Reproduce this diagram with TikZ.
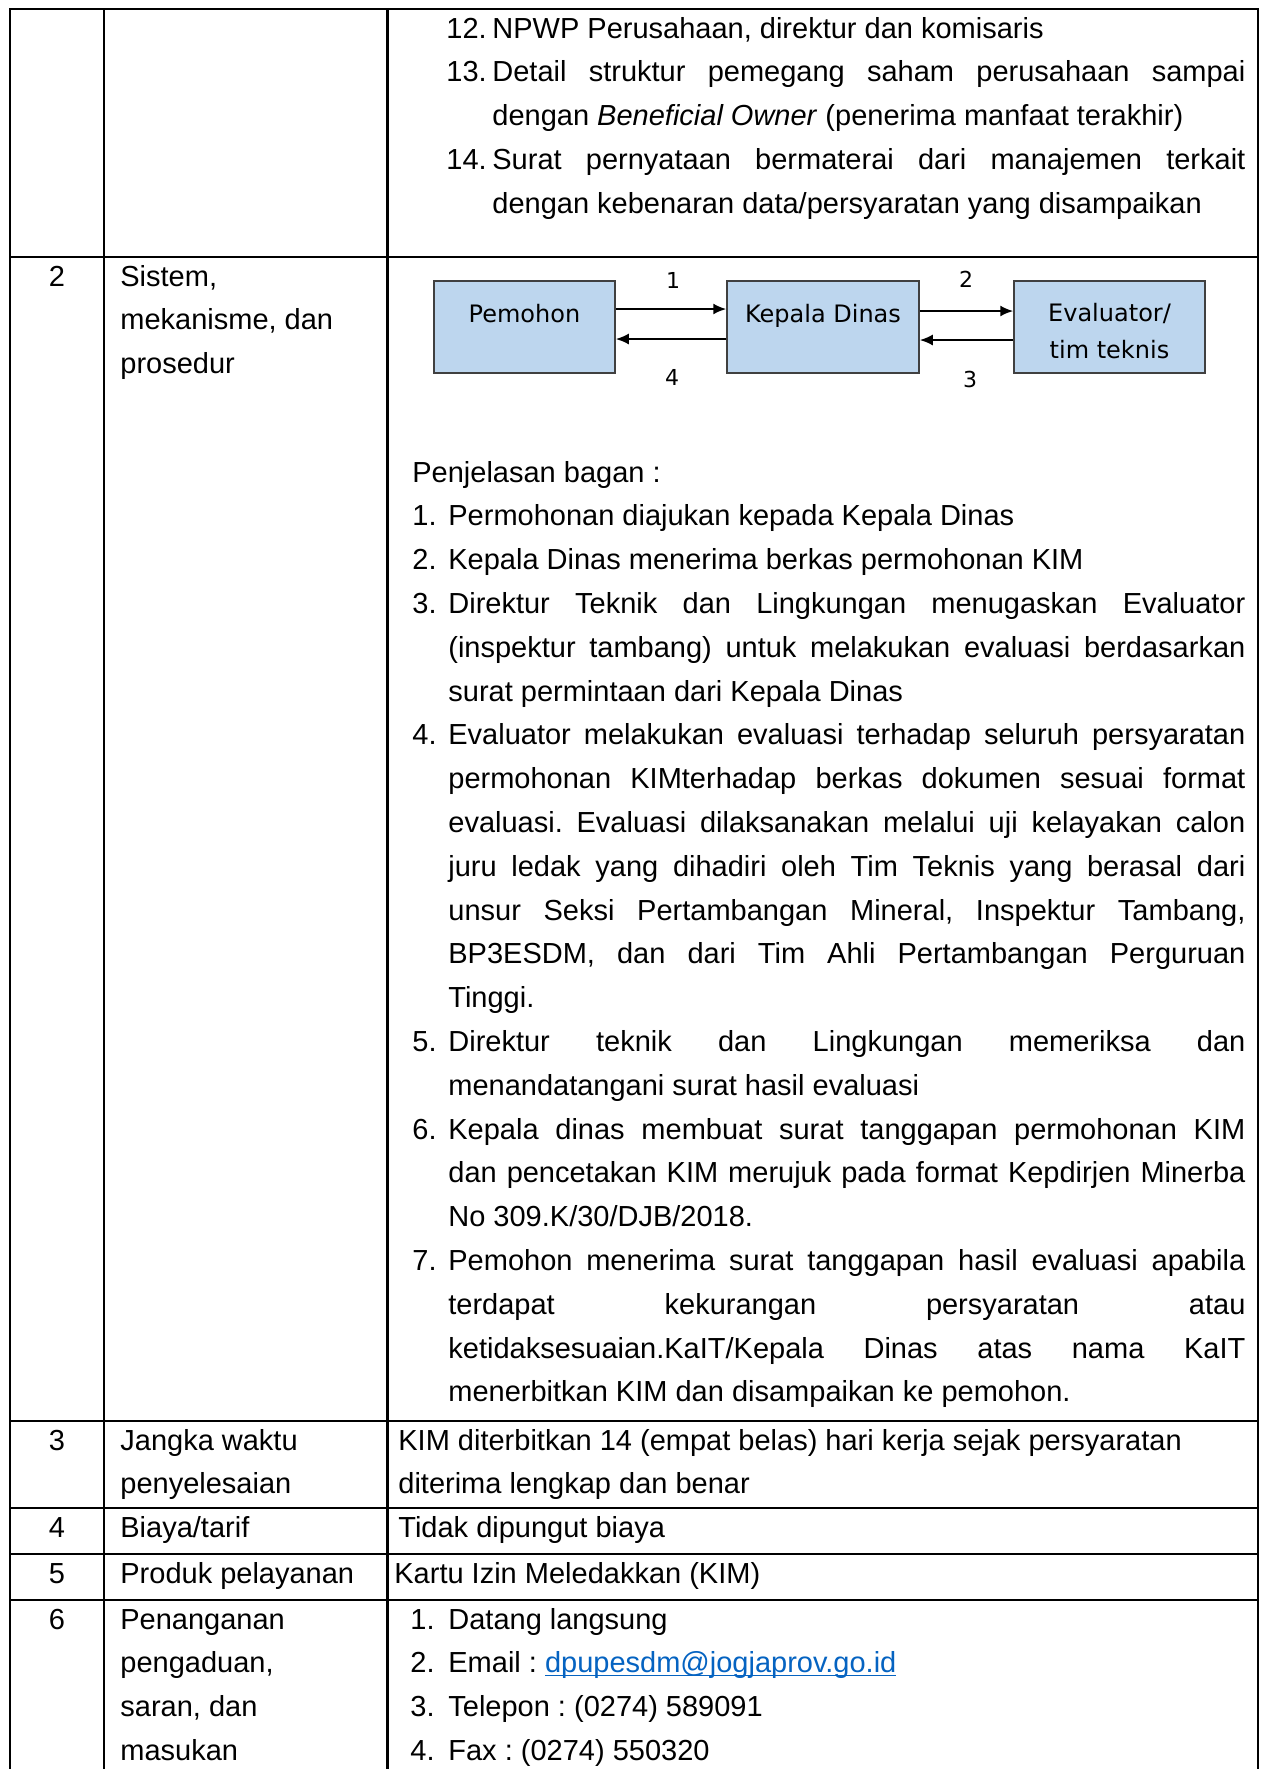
\documentclass[tikz,border=0pt]{standalone}
\usepackage{fontspec}
\setmainfont{Liberation Sans}
\newfontfamily\dejavu{DejaVu Sans}
\usepackage{tikz}
\usetikzlibrary{arrows.meta,calc}

\definecolor{boxblue}{RGB}{189,214,238}
\definecolor{boxline}{RGB}{64,64,64}
\definecolor{linkblue}{RGB}{5,99,193}

\newcommand{\fullline}[2][398.5pt]{\makebox[#1][s]{#2}}
\newcommand{\ulink}[1]{\setbox0\hbox{#1}\rlap{\rule[-1.8pt]{\wd0}{0.7pt}}\box0}

\begin{document}
\frenchspacing
\begin{tikzpicture}[>={Latex[length=6.5pt,width=5.5pt]}, x=0.5pt, y=-0.5pt, inner sep=0pt,
	grid/.style={line width=1.3pt},
	txt/.style={anchor=base west, font=\fontsize{14.5pt}{21.9pt}\selectfont, align=justify, text width=#1},
	txt/.default=420pt,
	nl/.style={anchor=base west, font=\fontsize{14.5pt}{21.9pt}\selectfont},
	nc/.style={anchor=base, font=\fontsize{14.5pt}{21.9pt}\selectfont},
	box/.style={draw=boxline, fill=boxblue, line width=0.75pt, minimum height=46pt},
	boxtxt/.style={anchor=base, font=\dejavu\fontsize{12pt}{14pt}\selectfont},
	num/.style={anchor=base, font=\dejavu\fontsize{11pt}{13pt}\selectfont},
	arr/.style={->, line width=1pt}]
	
	\useasboundingbox (0,0) rectangle (1264,1769);
	
	% Tabelle
	\draw[grid] (10,1769) -- (10,9) -- (1258,9) -- (1258,1769);
	\draw[grid] (104,9) -- (104,1769);
	\draw[grid] (387.5,9) -- (387.5,1769);
	\draw[grid] (10,257) -- (1258,257);
	\draw[grid] (10,1421) -- (1258,1421);
	\draw[grid] (10,1508) -- (1258,1508);
	\draw[grid] (10,1554) -- (1258,1554);
	\draw[grid] (10,1600) -- (1258,1600);
	
	% Zeile 1
	\node[nl](n12) at (446,38) {12.};
	\node[txt=376.5pt](t12) at (492,38) {NPWP Perusahaan, direktur dan komisaris};
	\node[nl](n13) at (446,81.8) {13.};
	\node[txt=376.5pt](t13) at (492,81.8) {\fullline[376.5pt]{Detail struktur pemegang saham perusahaan sampai}\\
		dengan \textit{Beneficial Owner} (penerima manfaat terakhir)};
	\node[nl](n14) at (446,169.4) {14.};
	\node[txt=376.5pt](t14) at (492,169.4) {\fullline[376.5pt]{Surat pernyataan bermaterai dari manajemen terkait}\\
		dengan kebenaran data/persyaratan yang disampaikan};
	
	% Zeile 2
	\node[nc](no2) at (57,286) {2};
	\node[txt=133pt](k2) at (120,286) {Sistem,\\ mekanisme, dan\\ prosedur};
	
	\node[box, minimum width=90.5pt](pem) at (524.5,327) {};
	\node[box, minimum width=96pt](kep) at (823,327) {};
	\node[box, minimum width=95.5pt](eva) at (1109.5,327) {};
	\node[boxtxt](pem_t) at (524.5,322.7) {Pemohon};
	\node[boxtxt](kep_t) at (823,322.7) {Kepala Dinas};
	\node[boxtxt](eva_t1) at (1109.5,321) {Evaluator/};
	\node[boxtxt](eva_t2) at (1109.5,358) {tim teknis};
	
	\node[num](l1) at (673,288) {1};
	\node[num](l2) at (966,287) {2};
	\node[num](l3) at (970,387) {3};
	\node[num](l4) at (672,385) {4};
	
	\draw[arr] ([yshift=9pt]pem.east) -- ([yshift=9pt]kep.west);
	\draw[arr] ([yshift=-6pt]kep.west) -- ([yshift=-6pt]pem.east);
	\draw[arr] ([yshift=8pt]kep.east) -- ([yshift=8pt]eva.west);
	\draw[arr] ([yshift=-6.5pt]eva.west) -- ([yshift=-6.5pt]kep.east);
	
	\node[txt](pen) at (412,482) {Penjelasan bagan :};
	\node[nl](n1) at (412,525.8) {1.};
	\node[txt=398.5pt](t1) at (448,525.8) {Permohonan diajukan kepada Kepala Dinas};
	\node[nl](n2) at (412,569.6) {2.};
	\node[txt=398.5pt](t2) at (448,569.6) {Kepala Dinas menerima berkas permohonan KIM};
	\node[nl](n3) at (412,613.4) {3.};
	\node[txt=398.5pt](t3) at (448,613.4) {\fullline{Direktur Teknik dan Lingkungan menugaskan Evaluator}\\
		\fullline{(inspektur tambang) untuk melakukan evaluasi berdasarkan}\\
		surat permintaan dari Kepala Dinas};
	\node[nl](n4) at (412,744.8) {4.};
	\node[txt=398.5pt](t4) at (448,744.8) {\fullline{Evaluator melakukan evaluasi terhadap seluruh persyaratan}\\
		\fullline{permohonan KIMterhadap berkas dokumen sesuai format}\\
		\fullline{evaluasi. Evaluasi dilaksanakan melalui uji kelayakan calon}\\
		\fullline{juru ledak yang dihadiri oleh Tim Teknis yang berasal dari}\\
		\fullline{unsur Seksi Pertambangan Mineral, Inspektur Tambang,}\\
		\fullline{BP3ESDM, dan dari Tim Ahli Pertambangan Perguruan}\\
		Tinggi.};
	\node[nl](n5) at (412,1051.4) {5.};
	\node[txt=398.5pt](t5) at (448,1051.4) {\fullline{Direktur teknik dan Lingkungan memeriksa dan}\\
		menandatangani surat hasil evaluasi};
	\node[nl](n6) at (412,1139) {6.};
	\node[txt=398.5pt](t6) at (448,1139) {\fullline{Kepala dinas membuat surat tanggapan permohonan KIM}\\
		\fullline{dan pencetakan KIM merujuk pada format Kepdirjen Minerba}\\
		No 309.K/30/DJB/2018.};
	\node[nl](n7) at (412,1270.4) {7.};
	\node[txt=398.5pt](t7) at (448,1270.4) {\fullline{Pemohon menerima surat tanggapan hasil evaluasi apabila}\\
		\fullline{terdapat kekurangan persyaratan atau}\\
		\fullline{ketidaksesuaian.KaIT/Kepala Dinas atas nama KaIT}\\
		menerbitkan KIM dan disampaikan ke pemohon.};
	
	% Zeilen 3 bis 6
	\node[nc](no3) at (57,1450) {3};
	\node[txt=133pt](k3) at (120,1450) {Jangka waktu\\ penyelesaian};
	\node[txt](w3) at (398,1450) {KIM diterbitkan 14 (empat belas) hari kerja sejak persyaratan\\ diterima lengkap dan benar};
	
	\node[nc](no4) at (57,1537) {4};
	\node[txt=133pt](k4) at (120,1537) {Biaya/tarif};
	\node[txt](w4) at (398,1537) {Tidak dipungut biaya};
	
	\node[nc](no5) at (57,1583) {5};
	\node[txt=133pt](k5) at (120,1583) {Produk pelayanan};
	\node[txt](w5) at (394,1583) {Kartu Izin Meledakkan (KIM)};
	
	\node[nc](no6) at (57,1629) {6};
	\node[txt=133pt](k6) at (120,1629) {Penanganan\\ pengaduan,\\ saran, dan\\ masukan};
	\node[nl](m1) at (410,1629) {1.};
	\node[txt](w6a) at (448,1629) {Datang langsung};
	\node[nl](m2) at (410,1672.8) {2.};
	\node[txt](w6b) at (448,1672.8) {Email : {\color{linkblue}\ulink{dpupesdm@jogjaprov.go.id}}};
	\node[nl](m3) at (410,1716.6) {3.};
	\node[txt](w6c) at (448,1716.6) {Telepon : (0274) 589091};
	\node[nl](m4) at (410,1760.4) {4.};
	\node[txt](w6d) at (448,1760.4) {Fax : (0274) 550320};
\end{tikzpicture}
\end{document}
